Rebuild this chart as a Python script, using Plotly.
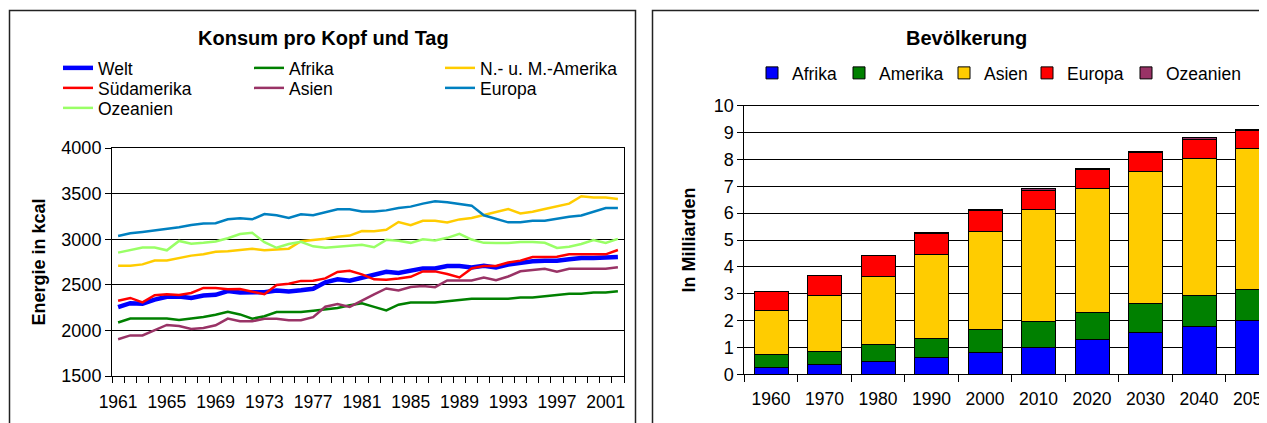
import plotly.graph_objects as go

# The page places the figure 8 px in from the top-left corner (default body margin),
# so the figure is sized to end exactly at the 1267x423 window edge.
OFF = 8
FW, FH = 1267 - OFF, 423 - OFF

# ---------------- data: left chart (kcal per capita per day) ----------------
years = [1961, 1962, 1963, 1964, 1965, 1966, 1967, 1968, 1969, 1970,
         1971, 1972, 1973, 1974, 1975, 1976, 1977, 1978, 1979, 1980,
         1981, 1982, 1983, 1984, 1985, 1986, 1987, 1988, 1989, 1990,
         1991, 1992, 1993, 1994, 1995, 1996, 1997, 1998, 1999, 2000,
         2001, 2002]
year_ticks = [1961, 1965, 1969, 1973, 1977, 1981, 1985, 1989, 1993, 1997, 2001]

welt = [2255, 2298, 2293, 2338, 2368, 2371, 2355, 2382, 2390, 2432,
        2415, 2412, 2419, 2438, 2428, 2440, 2457, 2528, 2560, 2545,
        2578, 2600, 2643, 2629, 2658, 2680, 2680, 2706, 2706, 2691,
        2710, 2691, 2721, 2743, 2757, 2765, 2765, 2780, 2794, 2794,
        2794, 2805]
afrika = [2086, 2130, 2130, 2130, 2130, 2115, 2130, 2146, 2172, 2205,
          2175, 2128, 2155, 2202, 2202, 2202, 2215, 2230, 2246, 2276,
          2297, 2258, 2220, 2282, 2305, 2305, 2305, 2320, 2336, 2348,
          2348, 2348, 2348, 2360, 2360, 2375, 2390, 2401, 2401, 2416,
          2416, 2430]
nm_amerika = [2708, 2708, 2724, 2766, 2767, 2792, 2820, 2835, 2862, 2867,
              2885, 2896, 2878, 2888, 2896, 2978, 2990, 3005, 3027, 3040,
              3090, 3088, 3103, 3188, 3154, 3202, 3202, 3184, 3217, 3232,
              3265, 3298, 3331, 3283, 3301, 3331, 3357, 3390, 3471, 3456,
              3456, 3441]
suedamerika = [2326, 2356, 2308, 2386, 2397, 2388, 2410, 2466, 2466, 2452,
               2453, 2426, 2397, 2497, 2511, 2543, 2545, 2570, 2641, 2654,
               2615, 2560, 2555, 2570, 2588, 2647, 2647, 2618, 2581, 2680,
               2706, 2706, 2745, 2765, 2805, 2805, 2807, 2834, 2834, 2834,
               2834, 2882]
asien = [1903, 1945, 1945, 2005, 2060, 2047, 2015, 2026, 2056, 2130,
         2100, 2100, 2128, 2128, 2112, 2112, 2145, 2260, 2290, 2258,
         2330, 2395, 2460, 2437, 2475, 2486, 2474, 2548, 2548, 2548,
         2580, 2550, 2591, 2648, 2662, 2675, 2644, 2675, 2675, 2675,
         2675, 2692]
europa = [3035, 3065, 3080, 3095, 3118, 3132, 3155, 3172, 3175, 3218,
          3230, 3218, 3275, 3262, 3232, 3274, 3262, 3298, 3328, 3328,
          3305, 3305, 3316, 3342, 3357, 3390, 3415, 3404, 3386, 3368,
          3262, 3224, 3185, 3185, 3202, 3202, 3228, 3246, 3261, 3300,
          3342, 3342]
ozeanien = [2853, 2882, 2910, 2910, 2878, 2981, 2950, 2961, 2975, 3010,
            3056, 3070, 2968, 2906, 2948, 2972, 2922, 2906, 2917, 2922,
            2938, 2912, 2993, 2982, 2960, 3000, 2985, 3015, 3059, 2996,
            2960, 2958, 2958, 2970, 2970, 2960, 2904, 2918, 2947, 2990,
            2960, 3003]

# ---------------- data: right chart (population, billions) ----------------
decades = ["1960", "1970", "1980", "1990", "2000", "2010", "2020", "2030", "2040", "2050"]
pop_afrika = [0.27, 0.37, 0.47, 0.61, 0.81, 1.00, 1.29, 1.54, 1.77, 2.02]
pop_amerika = [0.45, 0.47, 0.65, 0.73, 0.86, 0.96, 1.01, 1.09, 1.16, 1.14]
pop_asien = [1.67, 2.11, 2.52, 3.13, 3.66, 4.19, 4.62, 4.91, 5.10, 5.25]
pop_europa = [0.69, 0.71, 0.78, 0.77, 0.77, 0.71, 0.72, 0.72, 0.73, 0.67]
pop_ozeanien = [0.02, 0.02, 0.02, 0.03, 0.03, 0.04, 0.04, 0.05, 0.05, 0.05]

FONT = "Liberation Sans, Arial, sans-serif"
TICK = 17.5


def px_x(p):
    """window pixel x -> paper fraction"""
    return (p - OFF) / FW


def px_y(p):
    """window pixel y -> paper fraction"""
    return 1 - (p - OFF) / FH


fig = go.Figure()

# line series, each with its own positioned legend (Excel-like grid legend)
line_series = [
    ("Welt", welt, "#0000FF", 4.5, (58, 68)),
    ("Afrika", afrika, "#008000", 2.5, (249, 68)),
    ("N.- u. M.-Amerika", nm_amerika, "#FFCC00", 2.5, (440, 68)),
    ("Südamerika", suedamerika, "#FF0000", 2.5, (58, 88)),
    ("Asien", asien, "#993366", 2.5, (249, 88)),
    ("Europa", europa, "#0080C0", 2.5, (440, 88)),
    ("Ozeanien", ozeanien, "#99FF66", 2.5, (58, 108)),
]

legend_layouts = {}
n = 0
for name, vals, col, lw, (lx, ly) in line_series:
    n += 1
    lname = "legend" if n == 1 else f"legend{n}"
    fig.add_trace(go.Scatter(
        x=years, y=vals, name=name, mode="lines",
        line=dict(color=col, width=lw),
        xaxis="x", yaxis="y", legend=lname,
    ))
    legend_layouts[lname] = dict(
        x=px_x(lx), y=px_y(ly), xanchor="left", yanchor="middle",
        bgcolor="rgba(0,0,0,0)", borderwidth=0,
        font=dict(family=FONT, size=TICK, color="black"),
    )

# stacked bars, each legend entry placed like the reference's one-row legend
bar_series = [
    ("Afrika", pop_afrika, "#0000FF", 752),
    ("Amerika", pop_amerika, "#008000", 839),
    ("Asien", pop_asien, "#FFCC00", 944),
    ("Europa", pop_europa, "#FF0000", 1027),
    ("Ozeanien", pop_ozeanien, "#993366", 1126),
]
for name, vals, col, lx in bar_series:
    n += 1
    lname = f"legend{n}"
    fig.add_trace(go.Bar(
        x=decades, y=vals, name=name,
        marker=dict(color=col, line=dict(color="black", width=1)),
        xaxis="x2", yaxis="y2", legend=lname,
    ))
    legend_layouts[lname] = dict(
        x=px_x(lx), y=px_y(73), xanchor="left", yanchor="middle",
        bgcolor="rgba(0,0,0,0)", borderwidth=0,
        font=dict(family=FONT, size=TICK, color="black"),
    )

# plot area geometry (window pixels)
L1, R1, T1, B1 = 112, 624, 148, 376
L2, T2, B2 = 744.3, 105.7, 374.3
cat_w = 53.5
x2_max = -0.5 + (1267 - L2) / cat_w

fig.update_layout(
    width=FW, height=FH,
    margin=dict(l=0, r=0, t=0, b=0, autoexpand=False),
    paper_bgcolor="white", plot_bgcolor="white",
    font=dict(family=FONT, size=TICK, color="black"),
    barmode="stack", bargap=0.364,
    showlegend=True,
    xaxis=dict(
        domain=[px_x(L1), px_x(R1)], anchor="y",
        range=[1960.5, 2002.5], tickmode="array", tickvals=year_ticks,
        ticks="", showgrid=False, zeroline=False,
        showline=True, linecolor="black", linewidth=1, mirror=True,
        ticklabelstandoff=10,
        tickfont=dict(family=FONT, size=TICK, color="black"),
        minor=dict(tickmode="array", tickvals=[y - 0.5 for y in years] + [years[-1] + 0.5],
                   ticks="outside", ticklen=6, tickcolor="black", tickwidth=1, showgrid=False),
    ),
    yaxis=dict(
        domain=[px_y(B1), px_y(T1)], anchor="x",
        range=[1500, 4000], tickmode="linear", tick0=1500, dtick=500,
        ticks="outside", ticklen=6, tickcolor="black",
        showgrid=True, gridcolor="black", gridwidth=1, zeroline=False,
        showline=True, linecolor="black", linewidth=1, mirror=True,
        ticklabelstandoff=0,
        tickfont=dict(family=FONT, size=18, color="black"),
        title=dict(text="<b>Energie in kcal</b>", standoff=11,
                   font=dict(family=FONT, size=18, color="black")),
    ),
    xaxis2=dict(
        domain=[px_x(L2), 1], anchor="y2", type="category",
        range=[-0.5, x2_max], tickson="boundaries",
        ticks="outside", ticklen=7, tickcolor="black",
        showgrid=False, zeroline=False,
        showline=True, linecolor="black", linewidth=1, mirror=True,
        ticklabelstandoff=9,
        tickfont=dict(family=FONT, size=TICK, color="black"),
    ),
    yaxis2=dict(
        domain=[px_y(B2), px_y(T2)], anchor="x2",
        range=[0, 10], tickmode="linear", tick0=0, dtick=1,
        ticks="outside", ticklen=6, tickcolor="black",
        showgrid=True, gridcolor="black", gridwidth=1, zeroline=False,
        showline=True, linecolor="black", linewidth=1,
        ticklabelstandoff=0,
        tickfont=dict(family=FONT, size=18, color="black"),
        title=dict(text="<b>In Milliarden</b>", standoff=13,
                   font=dict(family=FONT, size=18, color="black")),
    ),
    annotations=[
        dict(text="<b>Konsum pro Kopf und Tag</b>", x=px_x(323), y=px_y(38),
             xref="paper", yref="paper", xanchor="center", yanchor="middle",
             showarrow=False, font=dict(family=FONT, size=20, color="black")),
        dict(text="<b>Bevölkerung</b>", x=px_x(966), y=px_y(38),
             xref="paper", yref="paper", xanchor="center", yanchor="middle",
             showarrow=False, font=dict(family=FONT, size=20, color="black")),
    ],
    shapes=[
        dict(type="rect", xref="paper", yref="paper",
             x0=px_x(9.5), x1=px_x(635.5), y0=-0.1, y1=px_y(10.5),
             line=dict(color="#222222", width=1.5), fillcolor="rgba(0,0,0,0)", layer="above"),
        dict(type="rect", xref="paper", yref="paper",
             x0=px_x(652.5), x1=1.1, y0=-0.1, y1=px_y(10.5),
             line=dict(color="#222222", width=1.5), fillcolor="rgba(0,0,0,0)", layer="above"),
    ],
    **legend_layouts,
)

fig.write_html("out.html")
